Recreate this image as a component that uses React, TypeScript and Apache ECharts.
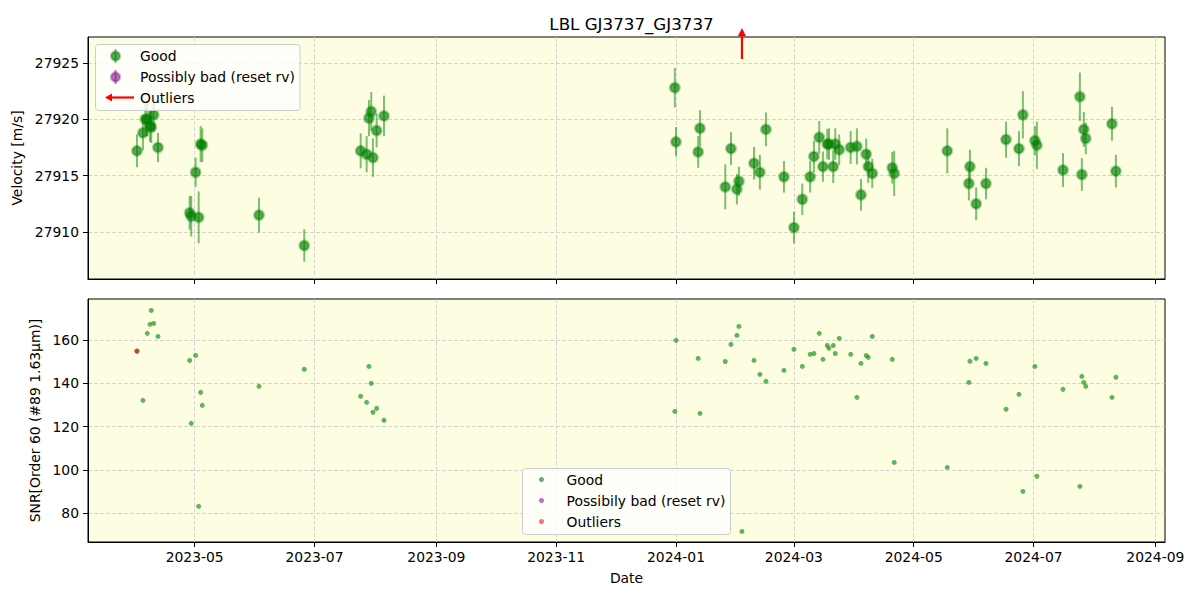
import React, { useEffect, useRef } from "react";
import * as echarts from "echarts";

// ---------- data ----------
const rvDates = [
  "2023-04-01T15:00", "2023-04-04T16:00", "2023-04-05T21:00", "2023-04-06T21:00", "2023-04-08T06:00",
  "2023-04-08T22:00", "2023-04-10T03:00", "2023-04-12T08:00", "2023-04-28T11:00", "2023-04-29T06:00",
  "2023-05-01T12:00", "2023-05-03T01:00", "2023-05-04T01:00", "2023-05-04T21:00", "2023-06-02T18:00",
  "2023-06-25T19:00", "2023-07-24T12:00", "2023-07-27T13:00", "2023-07-28T17:00", "2023-07-29T21:00",
  "2023-07-30T18:00", "2023-08-01T15:00", "2023-08-05T09:00", "2023-12-31T10:00", "2024-01-01T00:00",
  "2024-01-12T07:00", "2024-01-13T05:00", "2024-01-26T02:00", "2024-01-29T00:00", "2024-02-01T00:00",
  "2024-02-02T01:00", "2024-02-09T17:00", "2024-02-12T17:00", "2024-02-15T19:00", "2024-02-24T23:00",
  "2024-03-01T01:00", "2024-03-05T07:00", "2024-03-09T07:00", "2024-03-11T05:00", "2024-03-13T22:00",
  "2024-03-15T19:00", "2024-03-18T00:00", "2024-03-18T21:00", "2024-03-21T01:00", "2024-03-22T02:00",
  "2024-03-24T02:00", "2024-03-29T22:00", "2024-04-02T02:00", "2024-04-04T04:00", "2024-04-06T20:00",
  "2024-04-07T21:00", "2024-04-09T22:00", "2024-04-20T02:00", "2024-04-21T02:00", "2024-05-18T02:00",
  "2024-05-29T02:00", "2024-05-29T15:00", "2024-06-01T19:00", "2024-06-06T19:00", "2024-06-17T00:00",
  "2024-06-23T14:00", "2024-06-25T14:00", "2024-07-01T17:00", "2024-07-02T17:00", "2024-07-16T00:00",
  "2024-07-24T14:00", "2024-07-25T14:00", "2024-07-26T14:00", "2024-07-27T14:00", "2024-08-09T22:00",
  "2024-08-11T22:00",
];
const rvValues = [
  27917.2, 27918.8, 27920.0, 27920.0, 27919.4, 27919.3, 27920.4, 27917.5, 27911.7, 27911.4,
  27915.3, 27911.3, 27917.8, 27917.7, 27911.5, 27908.8, 27917.2, 27916.9, 27920.1, 27920.7,
  27916.6, 27919.0, 27920.3, 27922.8, 27918.0, 27917.1, 27919.2, 27914.0, 27917.4, 27913.8,
  27914.5, 27916.1, 27915.3, 27919.1, 27914.9, 27910.4, 27912.9, 27914.9, 27916.7, 27918.4,
  27915.8, 27917.8, 27917.8, 27915.8, 27917.8, 27917.3, 27917.5, 27917.6, 27913.3, 27916.9,
  27915.8, 27915.2, 27915.7, 27915.2, 27917.2, 27914.3, 27915.8, 27912.5, 27914.3, 27918.2,
  27917.4, 27920.4, 27918.1, 27917.7, 27915.5, 27922.0, 27915.1, 27919.1, 27918.3, 27919.6,
  27915.4,
];
const rvErrors = [
  1.45, 1.55, 1.5, 1.5, 1.4, 1.4, 1.5, 1.3, 1.5, 1.8,
  1.3, 2.3, 1.6, 1.5, 1.55, 1.45, 1.55, 1.6, 1.6, 1.7,
  1.7, 1.5, 1.8, 1.75, 1.3, 1.4, 1.6, 2.0, 1.45, 1.35,
  1.3, 1.45, 1.55, 1.5, 1.4, 1.4, 1.4, 1.4, 1.4, 1.45,
  1.35, 1.35, 1.4, 1.45, 1.4, 1.35, 1.45, 1.6, 1.4, 1.4,
  1.45, 1.3, 1.4, 2.0, 2.0, 1.5, 1.5, 1.45, 1.4, 1.6,
  1.55, 2.1, 1.3, 2.1, 1.5, 2.15, 1.45, 1.55, 1.4, 1.5,
  1.45,
];
const outlierDates = ["2024-02-03T14:00"];

const snrDates = [
  "2023-04-01T15:00", "2023-04-04T16:00", "2023-04-06T21:00", "2023-04-08T06:00", "2023-04-08T22:00",
  "2023-04-10T03:00", "2023-04-12T08:00", "2023-04-28T11:00", "2023-04-29T06:00", "2023-05-01T12:00",
  "2023-05-03T01:00", "2023-05-04T01:00", "2023-05-04T21:00", "2023-06-02T18:00", "2023-06-25T19:00",
  "2023-07-24T12:00", "2023-07-27T13:00", "2023-07-28T17:00", "2023-07-29T21:00", "2023-07-30T18:00",
  "2023-08-01T15:00", "2023-08-05T09:00", "2023-12-31T10:00", "2024-01-01T00:00", "2024-01-12T07:00",
  "2024-01-13T05:00", "2024-01-26T02:00", "2024-01-29T00:00", "2024-02-01T00:00", "2024-02-02T01:00",
  "2024-02-03T14:00", "2024-02-09T17:00", "2024-02-12T17:00", "2024-02-15T19:00", "2024-02-24T23:00",
  "2024-03-01T01:00", "2024-03-05T07:00", "2024-03-09T07:00", "2024-03-11T05:00", "2024-03-13T22:00",
  "2024-03-15T19:00", "2024-03-18T00:00", "2024-03-18T21:00", "2024-03-21T01:00", "2024-03-22T02:00",
  "2024-03-24T02:00", "2024-03-29T22:00", "2024-04-02T02:00", "2024-04-04T04:00", "2024-04-06T20:00",
  "2024-04-07T21:00", "2024-04-09T22:00", "2024-04-20T02:00", "2024-04-21T02:00", "2024-05-18T02:00",
  "2024-05-29T02:00", "2024-05-29T15:00", "2024-06-01T19:00", "2024-06-06T19:00", "2024-06-17T00:00",
  "2024-06-23T14:00", "2024-06-25T14:00", "2024-07-01T17:00", "2024-07-02T17:00", "2024-07-16T00:00",
  "2024-07-24T14:00", "2024-07-25T14:00", "2024-07-26T14:00", "2024-07-27T14:00", "2024-08-09T22:00",
  "2024-08-11T22:00",
];
const snrValues = [
  154.9, 132.1, 163.1, 167.3, 173.7, 167.7, 161.7, 150.6, 121.5, 152.9,
  83.1, 135.8, 129.8, 138.6, 146.5, 134.0, 131.2, 147.8, 140.0, 126.6,
  128.4, 122.9, 127.0, 159.9, 151.5, 126.1, 150.1, 158.0, 162.2, 166.3,
  71.5, 150.6, 144.1, 140.9, 146.0, 155.7, 147.8, 153.4, 153.8, 163.1,
  151.1, 157.5, 156.2, 157.5, 153.8, 160.8, 153.4, 133.5, 149.2, 152.9,
  152.0, 161.7, 151.1, 103.4, 101.1, 140.4, 150.2, 151.5, 149.2, 128.0,
  134.9, 90.0, 147.8, 97.0, 137.2, 92.3, 143.2, 140.4, 138.6, 133.5,
  142.8,
];
const snrOutlierDates = ["2023-04-01T15:00"];
const snrOutlierValues = [154.9];

const monthTicks = [
  "2023-05-01", "2023-07-01", "2023-09-01", "2023-11-01", "2024-01-01",
  "2024-03-01", "2024-05-01", "2024-07-01", "2024-09-01",
];
const xRange = ["2023-03-07T17:00", "2024-09-05T22:00"];
const rvTicks = [27910, 27915, 27920, 27925];
const rvRange = [27905.83, 27927.3];
const snrTicks = [80, 100, 120, 140, 160];
const snrRange = [66.6, 179.0];

const title = "LBL GJ3737_GJ3737";
const topLegend = ["Good", "Possibly bad (reset rv)", "Outliers"];
const bottomLegend = ["Good", "Possibily bad (reset rv)", "Outliers"];

// ---------- helpers ----------
const ts = (s: string) => Date.parse(s.length === 10 ? s + "T00:00:00Z" : s + ":00Z");
const fmtMonth = (v: number) => {
  const d = new Date(v);
  return d.getUTCFullYear() + "-" + String(d.getUTCMonth() + 1).padStart(2, "0");
};

const FONT = "DejaVu Sans";
const GREEN_FILL = "rgba(0,128,0,0.66)";
const GREEN_EDGE = "rgba(0,128,0,0.32)";
const GREEN_BAR = "rgba(0,128,0,0.5)";
const SNR_GREEN = "rgba(30,150,30,0.7)";
const PURPLE = "rgba(128,0,128,0.55)";
const RED = "#ff0000";
const BG = "#fdfde2";
const GRID_LINE = { show: true, lineStyle: { color: "#cfcfcf", type: [4, 2] as any, width: 0.9 } };

export default function App() {
  const ref = useRef<HTMLDivElement>(null);

  useEffect(() => {
    if (!ref.current) return;
    const chart = echarts.init(ref.current, undefined, { renderer: "svg" });
    const monthVals = monthTicks.map(ts);

    const xAxisBase = (gridIndex: number, showLabel: boolean) => ({
      type: "value",
      gridIndex,
      min: ts(xRange[0]),
      max: ts(xRange[1]),
      scale: true,
      axisLine: { show: true, onZero: false, lineStyle: { color: "#000", width: 1 } },
      axisTick: { show: true, customValues: monthVals, length: 5, lineStyle: { color: "#000" } },
      axisLabel: {
        show: showLabel,
        customValues: monthVals,
        formatter: (v: number) => fmtMonth(v),
        color: "#000",
        fontSize: 13.9,
        fontFamily: FONT,
        margin: 8,
      },
      splitLine: GRID_LINE,
    });

    const yAxisBase = (gridIndex: number, ticks: number[], range: number[], name: string, gap: number) => ({
      type: "value",
      gridIndex,
      min: range[0],
      max: range[1],
      scale: true,
      name,
      nameLocation: "middle",
      nameGap: gap,
      nameTextStyle: { color: "#000", fontSize: 13.9, fontFamily: FONT },
      axisLine: { show: true, onZero: false, lineStyle: { color: "#000", width: 1 } },
      axisTick: { show: true, customValues: ticks, length: 5, lineStyle: { color: "#000" } },
      axisLabel: {
        customValues: ticks,
        formatter: (v: number) => String(v),
        color: "#000",
        fontSize: 13.9,
        fontFamily: FONT,
        margin: 9,
      },
      splitLine: GRID_LINE,
    });

    const rvData = rvDates.map((d, i) => [ts(d), rvValues[i], rvErrors[i]]);
    const snrData = snrDates.map((d, i) => [ts(d), snrValues[i]]);
    const snrOutData = snrOutlierDates.map((d, i) => [ts(d), snrOutlierValues[i]]);
    const outData = outlierDates.map((d) => [ts(d), rvRange[1]]);

    const legendText = (x: number, y: number, text: string) => ({
      type: "text",
      x,
      y,
      style: { text, font: `13.9px "${FONT}"`, fill: "#000", verticalAlign: "middle", align: "left" },
      z: 101,
    });
    const graphics: any[] = [
      {
        type: "rect",
        shape: { x: 95.5, y: 44.5, width: 204.5, height: 66, r: 3 },
        style: { fill: "rgba(255,255,255,0.8)", stroke: "#cccccc", lineWidth: 1 },
        z: 100,
      },
      { type: "line", shape: { x1: 115.5, y1: 49, x2: 115.5, y2: 63 }, style: { stroke: GREEN_BAR, lineWidth: 2 }, z: 101 },
      { type: "circle", shape: { cx: 115.5, cy: 56, r: 4.5 }, style: { fill: GREEN_FILL, stroke: GREEN_EDGE, lineWidth: 2.5 }, z: 101 },
      { type: "line", shape: { x1: 115.5, y1: 70, x2: 115.5, y2: 84 }, style: { stroke: "rgba(128,0,128,0.5)", lineWidth: 2 }, z: 101 },
      { type: "circle", shape: { cx: 115.5, cy: 77, r: 4.5 }, style: { fill: PURPLE, stroke: "rgba(128,0,128,0.3)", lineWidth: 2.5 }, z: 101 },
      { type: "line", shape: { x1: 111, y1: 97.5, x2: 134, y2: 97.5 }, style: { stroke: RED, lineWidth: 2.2 }, z: 101 },
      { type: "polygon", shape: { points: [[105, 97.5], [112, 93.5], [112, 101.5]] }, style: { fill: RED }, z: 101 },
      legendText(140, 56, topLegend[0]),
      legendText(140, 77, topLegend[1]),
      legendText(140, 98, topLegend[2]),
      {
        type: "rect",
        shape: { x: 522.5, y: 468.5, width: 208, height: 66, r: 3 },
        style: { fill: "rgba(255,255,255,0.8)", stroke: "#cccccc", lineWidth: 1 },
        z: 100,
      },
      { type: "circle", shape: { cx: 541.5, cy: 479.5, r: 2.5 }, style: { fill: SNR_GREEN }, z: 101 },
      { type: "circle", shape: { cx: 541.5, cy: 500.5, r: 2.5 }, style: { fill: "rgba(150,40,150,0.65)" }, z: 101 },
      { type: "circle", shape: { cx: 541.5, cy: 521.5, r: 2.5 }, style: { fill: "rgba(255,60,60,0.75)" }, z: 101 },
      legendText(566.5, 479.5, bottomLegend[0]),
      legendText(566.5, 500.5, bottomLegend[1]),
      legendText(566.5, 521.5, bottomLegend[2]),
    ];

    const option: any = {
      animation: false,
      backgroundColor: "#ffffff",
      textStyle: { fontFamily: FONT },
      title: {
        text: title,
        left: 626.5,
        top: 10,
        textAlign: "center",
        textStyle: { fontSize: 16.7, fontWeight: "normal", color: "#000", fontFamily: FONT },
      },
      grid: [
        { left: 88, right: 35, top: 37, height: 242, show: true, backgroundColor: BG, borderColor: "#000", borderWidth: 1 },
        { left: 88, right: 35, top: 299, height: 243, show: true, backgroundColor: BG, borderColor: "#000", borderWidth: 1 },
      ],
      xAxis: [
        xAxisBase(0, false),
        { ...xAxisBase(1, true), name: "Date", nameLocation: "middle", nameGap: 29, nameTextStyle: { color: "#000", fontSize: 13.9, fontFamily: FONT } },
      ],
      yAxis: [
        yAxisBase(0, rvTicks, rvRange, "Velocity [m/s]", 50),
        yAxisBase(1, snrTicks, snrRange, "SNR[Order 60 (#89 1.63μm)]", 41),
      ],
      series: [
        {
          type: "custom",
          xAxisIndex: 0,
          yAxisIndex: 0,
          data: rvData,
          encode: { x: 0, y: 1 },
          z: 3,
          renderItem: (params: any, api: any) => {
            const x = api.value(0);
            const y = api.value(1);
            const e = api.value(2);
            const p1 = api.coord([x, y - e]);
            const p2 = api.coord([x, y + e]);
            return {
              type: "line",
              shape: { x1: p1[0], y1: p1[1], x2: p2[0], y2: p2[1] },
              style: { stroke: GREEN_BAR, lineWidth: 2 },
            };
          },
        },
        {
          type: "scatter",
          xAxisIndex: 0,
          yAxisIndex: 0,
          data: rvData.map((d) => [d[0], d[1]]),
          symbol: "circle",
          symbolSize: 9.5,
          z: 4,
          itemStyle: { color: GREEN_FILL, borderColor: GREEN_EDGE, borderWidth: 2.5, opacity: 1 },
        },
        {
          type: "custom",
          xAxisIndex: 0,
          yAxisIndex: 0,
          data: outData,
          encode: { x: 0, y: 1 },
          clip: false,
          z: 5,
          renderItem: (params: any, api: any) => {
            const p = api.coord([api.value(0), api.value(1)]);
            const top = params.coordSys.y;
            const x = p[0];
            return {
              type: "group",
              children: [
                { type: "line", shape: { x1: x, y1: top + 22, x2: x, y2: top - 2 }, style: { stroke: RED, lineWidth: 2.2 } },
                { type: "polygon", shape: { points: [[x - 4, top - 1], [x + 4, top - 1], [x, top - 9]] }, style: { fill: RED } },
              ],
            };
          },
        },
        {
          type: "scatter",
          xAxisIndex: 1,
          yAxisIndex: 1,
          data: snrData,
          symbol: "circle",
          symbolSize: 5,
          z: 4,
          itemStyle: { color: SNR_GREEN, opacity: 1 },
        },
        {
          type: "scatter",
          xAxisIndex: 1,
          yAxisIndex: 1,
          data: snrOutData,
          symbol: "circle",
          symbolSize: 5,
          z: 5,
          itemStyle: { color: "rgba(255,0,0,0.6)", opacity: 1 },
        },
      ],
      graphic: graphics,
    };

    chart.setOption(option);
    return () => chart.dispose();
  }, []);

  return (
    <div
      ref={ref}
      style={{ position: "fixed", left: 0, top: 0, width: 1200, height: 600, background: "#fff" }}
    />
  );
}
